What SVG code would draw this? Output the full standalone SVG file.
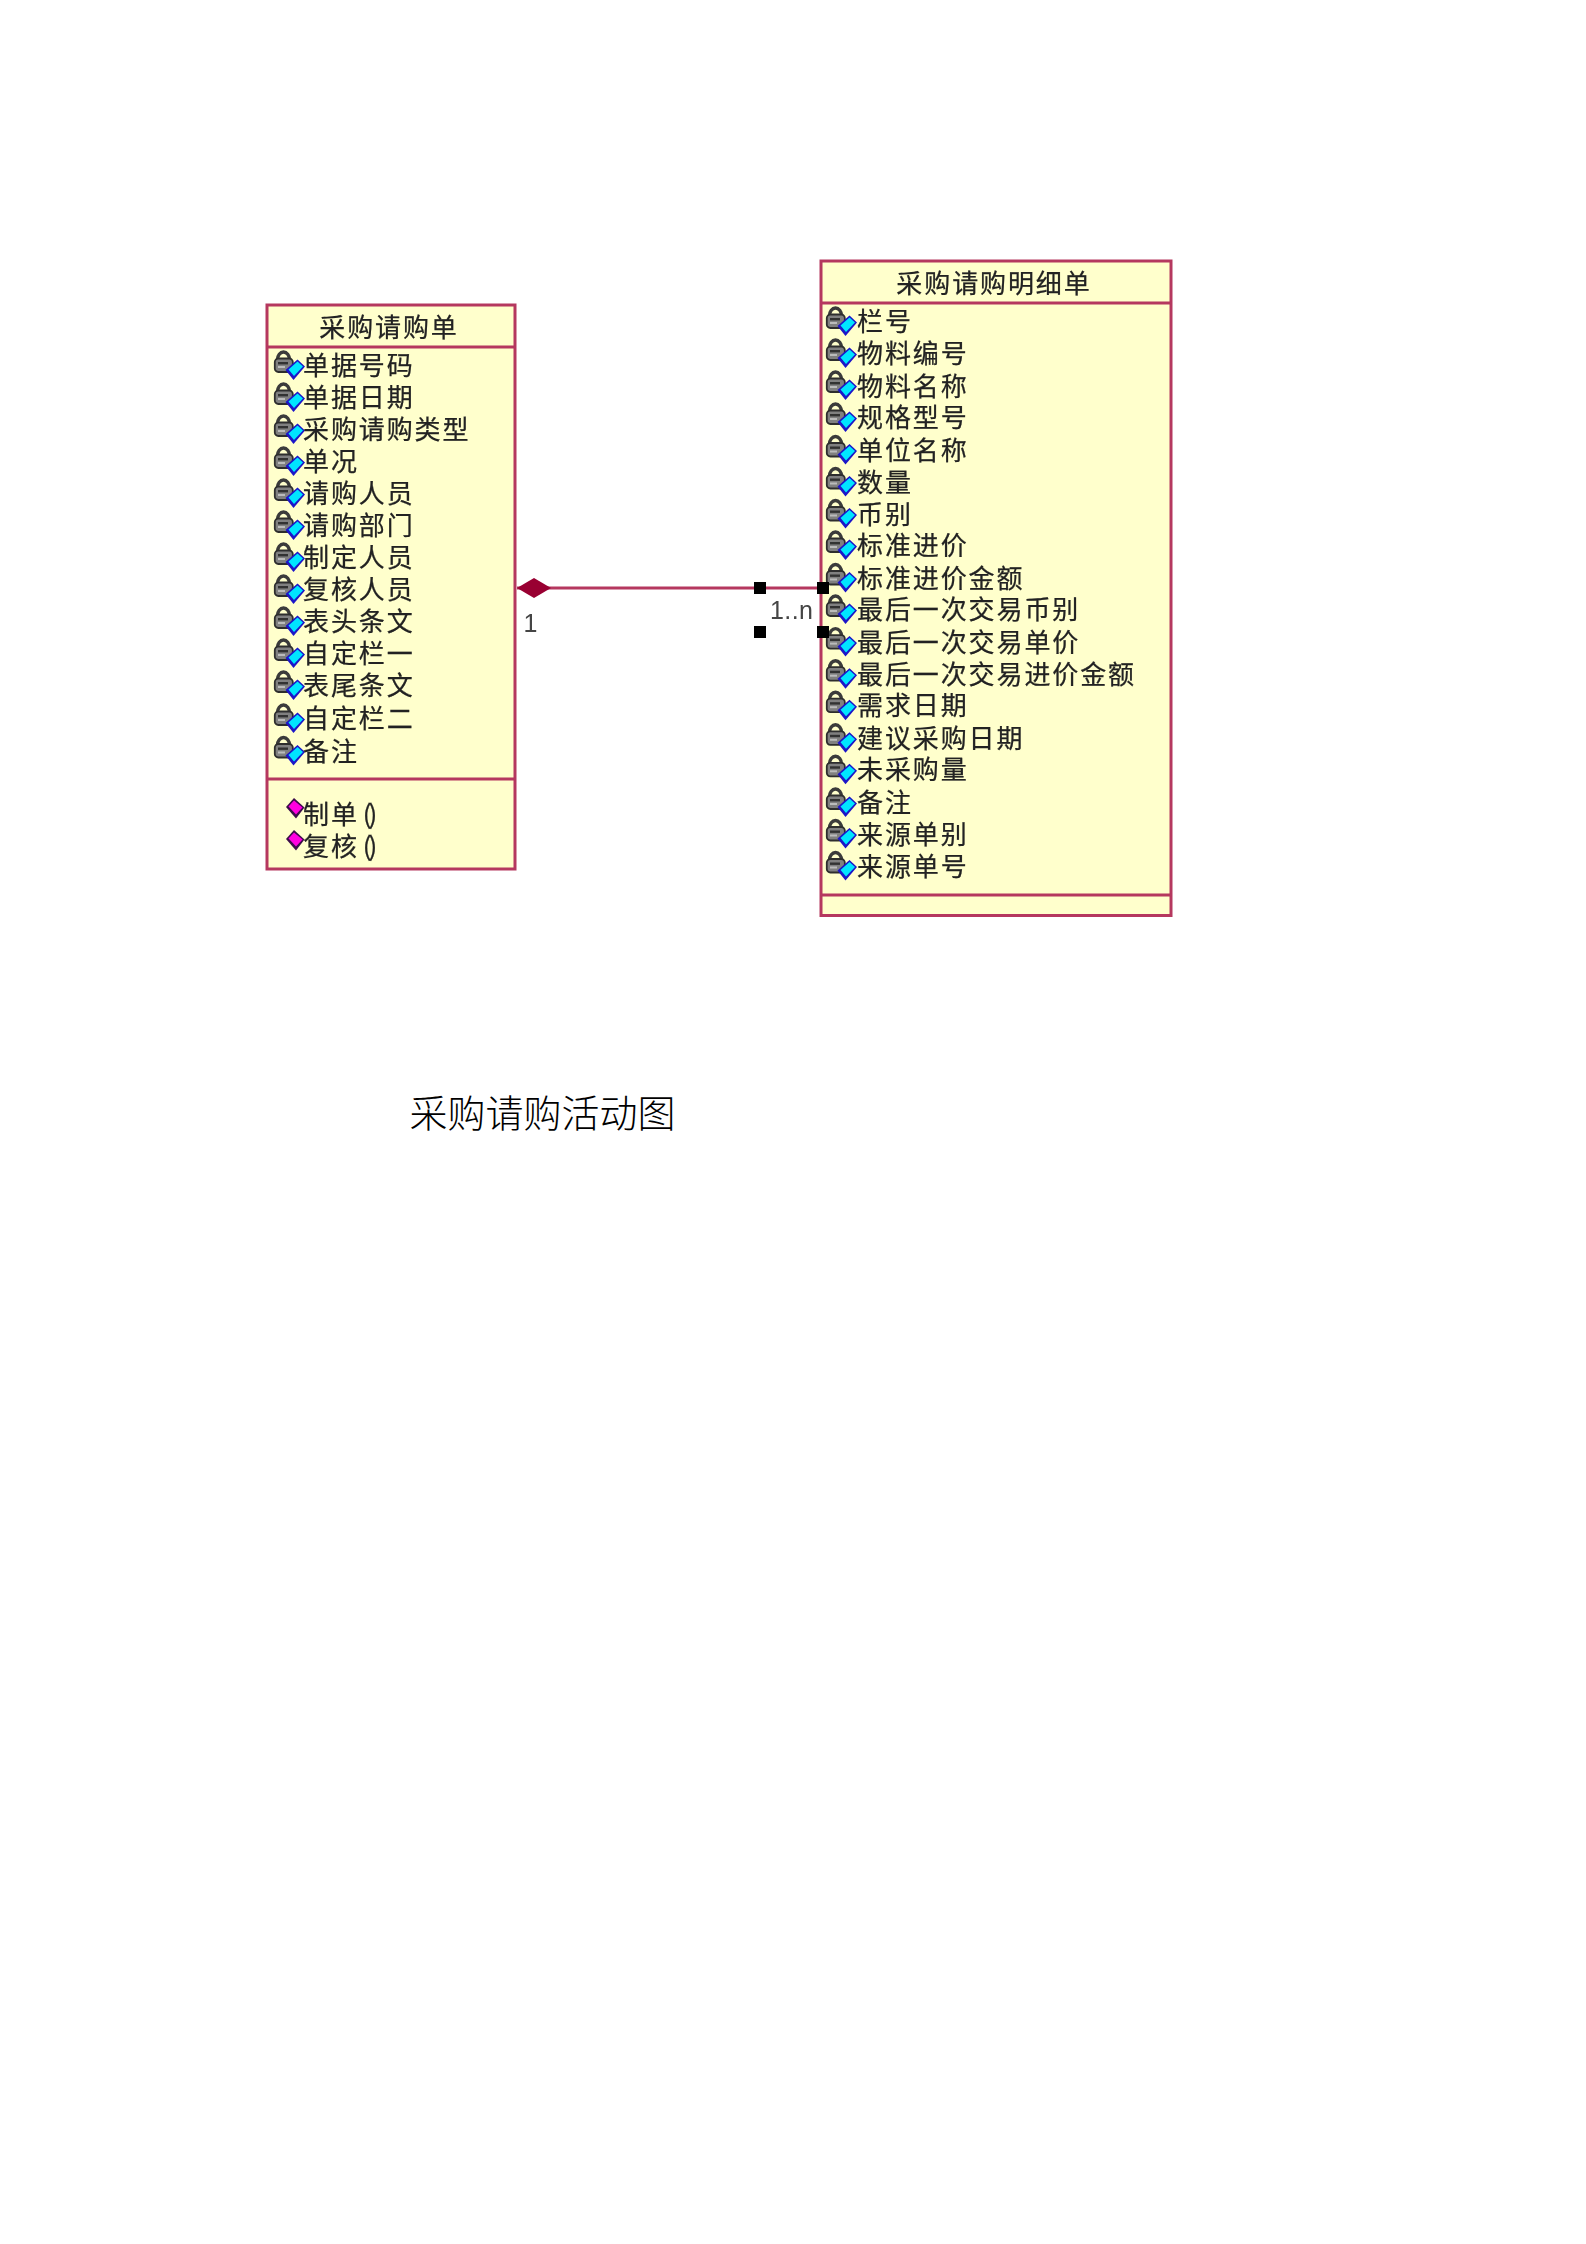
<svg xmlns="http://www.w3.org/2000/svg" xmlns:xlink="http://www.w3.org/1999/xlink" width="1586" height="2244" viewBox="0 0 1586 2244">
<style>
.box{fill:#ffffcc;stroke:#b5375f;stroke-width:3}
.div{stroke:#b5375f;stroke-width:3;fill:none}
.t{font-family:"Noto Sans CJK SC","Liberation Sans",sans-serif;font-size:26px;letter-spacing:1.9px;fill:#222;stroke:#222;stroke-width:0.25px}
.h{text-anchor:middle}
.m{font-family:"Liberation Sans",sans-serif;font-size:25px;letter-spacing:0.4px;fill:#444}
.title{font-family:"Noto Sans CJK SC","Liberation Serif",serif;font-size:38px;font-weight:300;fill:#000}
</style>
<defs>
<filter id="soft" x="-5%" y="-5%" width="110%" height="110%"><feGaussianBlur stdDeviation="0.6"/></filter>
<g id="attr">
<path d="M3.500 9.500a6 7.500 0 0 1 12 0" fill="none" stroke="#3a3a3a" stroke-width="3.400"/>
<rect x="0.800" y="8.500" width="18" height="13.500" rx="3.500" fill="#808080" stroke="#2e2e2e" stroke-width="1.800"/>
<rect x="4" y="12" width="10" height="2.400" fill="#333"/>
<rect x="4" y="16" width="7" height="2" fill="#bbb"/>
<polygon points="11.500,20 23.500,9.500 31,16.500 19.500,30" fill="#1a14c8"/>
<polygon points="14.500,19.500 23.500,11.500 29,16.500 20,26" fill="#00e5ff"/>
</g>
<g id="oper">
<polygon points="0,9 8,0 18.500,9.500 10,20.500" fill="#3a0a4a"/>
<polygon points="2.500,8.500 8,2.500 16.500,9.500 10,16.500" fill="#ff00e0"/>
</g>
</defs>
<rect width="1586" height="2244" fill="#fff"/>
<g filter="url(#soft)">
<g id="node-purchase-request">
<rect class="box" x="267" y="305" width="248" height="564"/>
<line class="div" x1="267" y1="347" x2="515" y2="347"/>
<line class="div" x1="267" y1="779" x2="515" y2="779"/>
<text class="t h" x="389" y="337">采购请购单</text>
<use href="#attr" x="274" y="350"/><text class="t" x="303" y="375">单据号码</text>
<use href="#attr" x="274" y="382"/><text class="t" x="303" y="407">单据日期</text>
<use href="#attr" x="274" y="414"/><text class="t" x="303" y="439">采购请购类型</text>
<use href="#attr" x="274" y="446"/><text class="t" x="303" y="471">单况</text>
<use href="#attr" x="274" y="478"/><text class="t" x="303" y="503">请购人员</text>
<use href="#attr" x="274" y="510"/><text class="t" x="303" y="535">请购部门</text>
<use href="#attr" x="274" y="542"/><text class="t" x="303" y="567">制定人员</text>
<use href="#attr" x="274" y="574"/><text class="t" x="303" y="599">复核人员</text>
<use href="#attr" x="274" y="606"/><text class="t" x="303" y="631">表头条文</text>
<use href="#attr" x="274" y="638"/><text class="t" x="303" y="663">自定栏一</text>
<use href="#attr" x="274" y="670"/><text class="t" x="303" y="695">表尾条文</text>
<use href="#attr" x="274" y="703"/><text class="t" x="303" y="728">自定栏二</text>
<use href="#attr" x="274" y="735.500"/><text class="t" x="303" y="760.500">备注</text>
<use href="#oper" x="286" y="798"/><text class="t" x="303" y="824">制单<tspan dx="4" letter-spacing="-3">()</tspan></text>
<use href="#oper" x="286" y="830"/><text class="t" x="303" y="856">复核<tspan dx="4" letter-spacing="-3">()</tspan></text>
</g>
<g id="node-purchase-request-detail">
<rect class="box" x="821" y="261" width="350" height="654.500"/>
<line class="div" x1="821" y1="303" x2="1171" y2="303"/>
<line class="div" x1="821" y1="895" x2="1171" y2="895"/>
<text class="t h" x="994" y="293">采购请购明细单</text>
<use href="#attr" x="826" y="306"/><text class="t" x="857" y="331">栏号</text>
<use href="#attr" x="826" y="338"/><text class="t" x="857" y="363">物料编号</text>
<use href="#attr" x="826" y="370"/><text class="t" x="857" y="395.500">物料名称</text>
<use href="#attr" x="826" y="402"/><text class="t" x="857" y="427">规格型号</text>
<use href="#attr" x="826" y="434.500"/><text class="t" x="857" y="459.500">单位名称</text>
<use href="#attr" x="826" y="466.500"/><text class="t" x="857" y="491.500">数量</text>
<use href="#attr" x="826" y="498.500"/><text class="t" x="857" y="523.500">币别</text>
<use href="#attr" x="826" y="530"/><text class="t" x="857" y="555">标准进价</text>
<use href="#attr" x="826" y="562.500"/><text class="t" x="857" y="587.500">标准进价金额</text>
<use href="#attr" x="826" y="594"/><text class="t" x="857" y="619">最后一次交易币别</text>
<use href="#attr" x="826" y="626.600"/><text class="t" x="857" y="651.600">最后一次交易单价</text>
<use href="#attr" x="826" y="658.700"/><text class="t" x="857" y="683.700">最后一次交易进价金额</text>
<use href="#attr" x="826" y="690.200"/><text class="t" x="857" y="715.200">需求日期</text>
<use href="#attr" x="826" y="722.800"/><text class="t" x="857" y="747.800">建议采购日期</text>
<use href="#attr" x="826" y="754.300"/><text class="t" x="857" y="779.300">未采购量</text>
<use href="#attr" x="826" y="787"/><text class="t" x="857" y="812">备注</text>
<use href="#attr" x="826" y="818.500"/><text class="t" x="857" y="843.500">来源单别</text>
<use href="#attr" x="826" y="850.500"/><text class="t" x="857" y="875.500">来源单号</text>
</g>
<g id="connectors">
<line x1="517" y1="588" x2="821" y2="588" stroke="#b5375f" stroke-width="3"/>
<polygon points="517,588 534,578 551,588 534,598" fill="#990033"/>
<text class="m" x="523.500" y="632">1</text>
<text class="m" x="770" y="619">1..n</text>
<rect x="754" y="582" width="12" height="12" fill="#000"/>
<rect x="754" y="626" width="12" height="12" fill="#000"/>
<rect x="817" y="582" width="12" height="12" fill="#000"/>
<rect x="817" y="626" width="12" height="12" fill="#000"/>
</g>
</g>
<text class="title" x="409.500" y="1127">采购请购活动图</text>
</svg>
